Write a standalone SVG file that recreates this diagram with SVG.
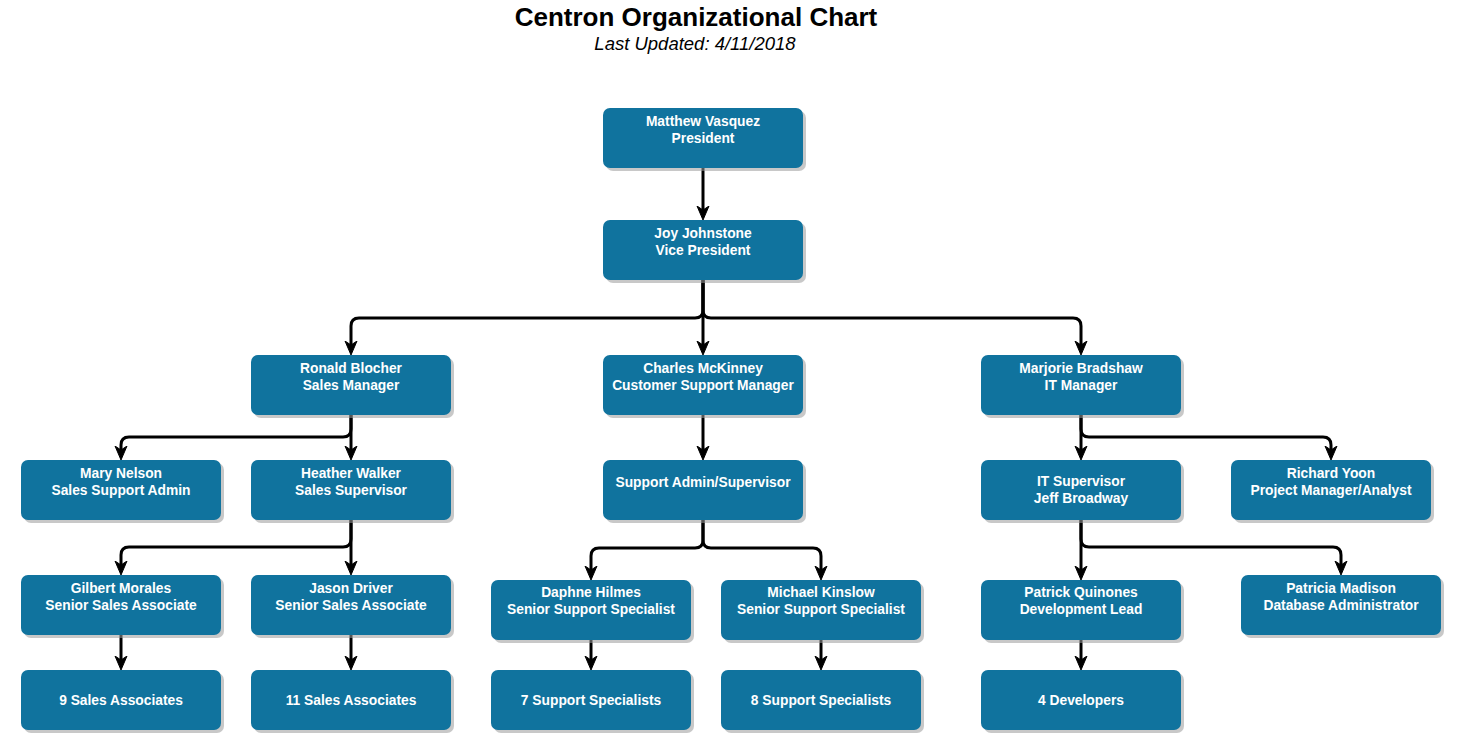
<svg xmlns="http://www.w3.org/2000/svg" width="1459" height="735" viewBox="0 0 1459 735">
<style>
.title{font-family:"Liberation Sans",Arial,sans-serif;font-weight:bold;font-size:26px;fill:#000;text-anchor:middle}
.sub{font-family:"Liberation Sans",Arial,sans-serif;font-style:italic;font-size:18.5px;fill:#000;text-anchor:middle}
.box{fill:#10739E}
.shd{fill:#9a9a9a;opacity:.55}
.t{font-family:"Liberation Sans",Arial,sans-serif;font-weight:bold;font-size:13.8px;fill:#fff;text-anchor:middle}
.e{fill:none;stroke:#000;stroke-width:3;marker-end:url(#ah)}
</style>
<defs>
<marker id="ah" viewBox="0 0 14 14" markerWidth="14" markerHeight="14" refX="6" refY="7" orient="auto" markerUnits="userSpaceOnUse">
<path d="M0,1 L14,7 L0,13 L4,7 Z" fill="#000" stroke="#000" stroke-width="1" stroke-linejoin="round"/>
</marker>
<g id="card"><rect class="shd" x="3" y="3" width="200" height="60" rx="7"/><rect class="box" x="0" y="0" width="200" height="60" rx="7"/></g>
</defs>
<text class="title" x="696" y="26">Centron Organizational Chart</text>
<text class="sub" x="695" y="50">Last Updated: 4/11/2018</text>
<g id="connectors">
<path class="e" d="M703,168 V212"/>
<path class="e" d="M703,280 V310 Q703,318 695,318 H359 Q351,318 351,326 V347"/>
<path class="e" d="M703,280 V347"/>
<path class="e" d="M703,280 V310 Q703,318 711,318 H1073 Q1081,318 1081,326 V347"/>
<path class="e" d="M351,415 V429 Q351,437 343,437 H129 Q121,437 121,445 V452"/>
<path class="e" d="M351,415 V452"/>
<path class="e" d="M351,520 V539 Q351,547 343,547 H129 Q121,547 121,555 V567"/>
<path class="e" d="M351,520 V567"/>
<path class="e" d="M703,415 V452"/>
<path class="e" d="M703,520 V540 Q703,548 695,548 H599 Q591,548 591,556 V572"/>
<path class="e" d="M703,520 V540 Q703,548 711,548 H813 Q821,548 821,556 V572"/>
<path class="e" d="M1081,415 V452"/>
<path class="e" d="M1081,415 V429 Q1081,437 1089,437 H1323 Q1331,437 1331,445 V452"/>
<path class="e" d="M1081,520 V572"/>
<path class="e" d="M1081,520 V539 Q1081,547 1089,547 H1333 Q1341,547 1341,555 V567"/>
<path class="e" d="M121,635 V662"/>
<path class="e" d="M351,635 V662"/>
<path class="e" d="M591,640 V662"/>
<path class="e" d="M821,640 V662"/>
<path class="e" d="M1081,640 V662"/>
</g>
<g id="n1"><use href="#card" x="603" y="108"/><text class="t" x="703" y="126">Matthew Vasquez</text><text class="t" x="703" y="143">President</text></g>
<g id="n2"><use href="#card" x="603" y="220"/><text class="t" x="703" y="238">Joy Johnstone</text><text class="t" x="703" y="255">Vice President</text></g>
<g id="n3"><use href="#card" x="251" y="355"/><text class="t" x="351" y="373">Ronald Blocher</text><text class="t" x="351" y="390">Sales Manager</text></g>
<g id="n4"><use href="#card" x="603" y="355"/><text class="t" x="703" y="373">Charles McKinney</text><text class="t" x="703" y="390">Customer Support Manager</text></g>
<g id="n5"><use href="#card" x="981" y="355"/><text class="t" x="1081" y="373">Marjorie Bradshaw</text><text class="t" x="1081" y="390">IT Manager</text></g>
<g id="n6"><use href="#card" x="21" y="460"/><text class="t" x="121" y="478">Mary Nelson</text><text class="t" x="121" y="495">Sales Support Admin</text></g>
<g id="n7"><use href="#card" x="251" y="460"/><text class="t" x="351" y="478">Heather Walker</text><text class="t" x="351" y="495">Sales Supervisor</text></g>
<g id="n8"><use href="#card" x="603" y="460"/><text class="t" x="703" y="486.5">Support Admin/Supervisor</text></g>
<g id="n9"><use href="#card" x="981" y="460"/><text class="t" x="1081" y="486">IT Supervisor</text><text class="t" x="1081" y="503">Jeff Broadway</text></g>
<g id="n10"><use href="#card" x="1231" y="460"/><text class="t" x="1331" y="478">Richard Yoon</text><text class="t" x="1331" y="495">Project Manager/Analyst</text></g>
<g id="n11"><use href="#card" x="21" y="575"/><text class="t" x="121" y="593">Gilbert Morales</text><text class="t" x="121" y="610">Senior Sales Associate</text></g>
<g id="n12"><use href="#card" x="251" y="575"/><text class="t" x="351" y="593">Jason Driver</text><text class="t" x="351" y="610">Senior Sales Associate</text></g>
<g id="n13"><use href="#card" x="491" y="580"/><text class="t" x="591" y="597">Daphne Hilmes</text><text class="t" x="591" y="614">Senior Support Specialist</text></g>
<g id="n14"><use href="#card" x="721" y="580"/><text class="t" x="821" y="597">Michael Kinslow</text><text class="t" x="821" y="614">Senior Support Specialist</text></g>
<g id="n15"><use href="#card" x="981" y="580"/><text class="t" x="1081" y="597">Patrick Quinones</text><text class="t" x="1081" y="614">Development Lead</text></g>
<g id="n16"><use href="#card" x="1241" y="575"/><text class="t" x="1341" y="593">Patricia Madison</text><text class="t" x="1341" y="610">Database Administrator</text></g>
<g id="n17"><use href="#card" x="21" y="670"/><text class="t" x="121" y="705">9 Sales Associates</text></g>
<g id="n18"><use href="#card" x="251" y="670"/><text class="t" x="351" y="705">11 Sales Associates</text></g>
<g id="n19"><use href="#card" x="491" y="670"/><text class="t" x="591" y="705">7 Support Specialists</text></g>
<g id="n20"><use href="#card" x="721" y="670"/><text class="t" x="821" y="705">8 Support Specialists</text></g>
<g id="n21"><use href="#card" x="981" y="670"/><text class="t" x="1081" y="705">4 Developers</text></g>
</svg>
